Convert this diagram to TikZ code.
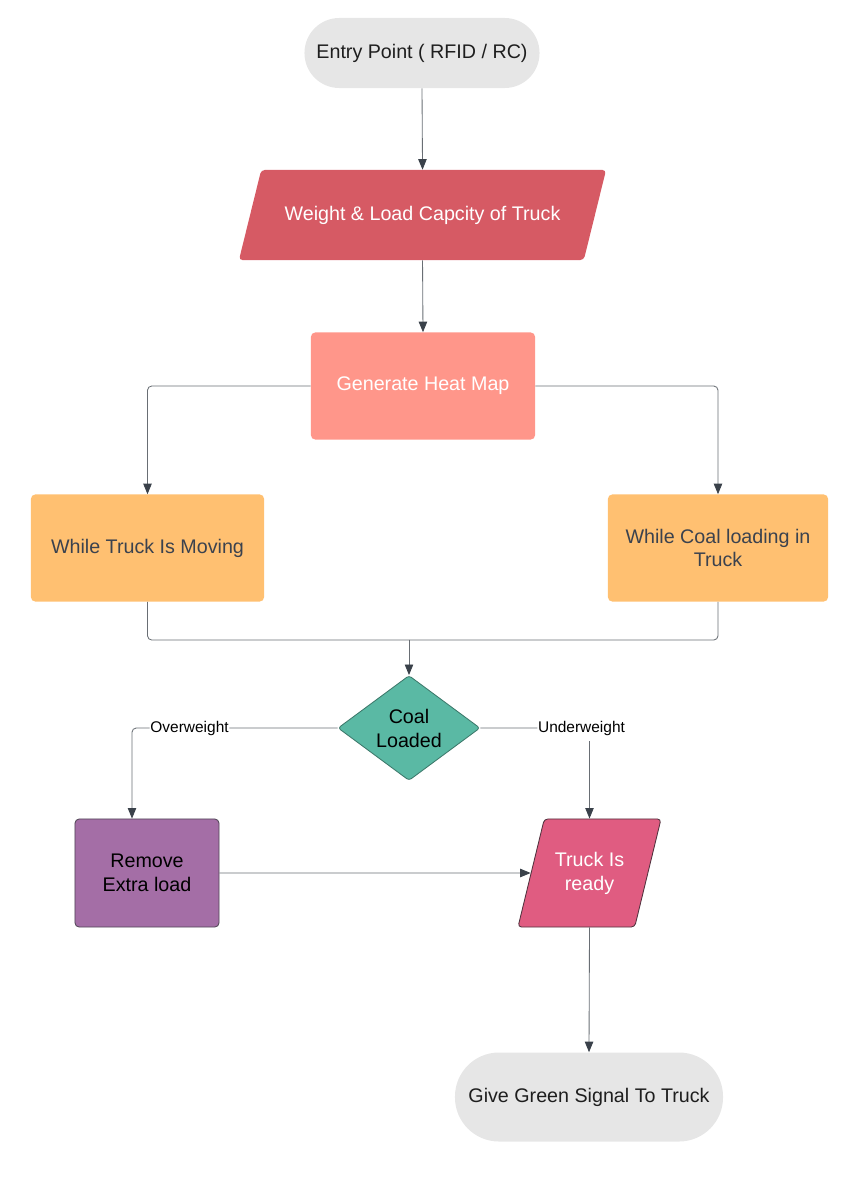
\documentclass[tikz,border=0pt]{standalone}
\usepackage{fontspec}
\setmainfont{Liberation Sans}
\usetikzlibrary{positioning,arrows.meta,shapes.geometric}
\definecolor{termgray}{RGB}{230,230,230}
\definecolor{weightred}{RGB}{214,90,100}
\definecolor{heatsalmon}{RGB}{255,150,138}
\definecolor{loadorange}{RGB}{255,192,113}
\definecolor{coalteal}{RGB}{90,185,164}
\definecolor{coaledge}{RGB}{60,120,106}
\definecolor{removepurple}{RGB}{164,110,166}
\definecolor{removeedge}{RGB}{80,70,85}
\definecolor{readypink}{RGB}{224,92,129}
\definecolor{readyedge}{RGB}{80,50,62}
\definecolor{linegray}{RGB}{105,110,116}
\definecolor{tipslate}{RGB}{58,65,74}
\definecolor{orangetext}{RGB}{59,66,78}
\definecolor{textdark}{RGB}{30,30,30}

\begin{document}
\begin{tikzpicture}[x=0.025cm,y=-0.025cm,
          base/.style={font=\fontsize{14}{17}\selectfont,align=center,inner sep=0pt},
          term/.style={base,fill=termgray,text=textdark},
          io/.style={base,trapezium,trapezium left angle=#1,
            trapezium right angle=180-#1,trapezium stretches body,
            rounded corners=2.5pt},
          box/.style={base,rectangle,rounded corners=3pt},
          decide/.style={base,diamond,fill=coalteal,draw=coaledge,
            line width=0.6pt,rounded corners=2pt,text=black},
          link/.style={draw=linegray,line width=0.6pt,rounded corners=3pt},
          flow/.style={link,-{Triangle[length=7.5pt,width=6pt,color=tipslate]}},
          lbl/.style={font=\fontsize{11}{13}\selectfont,fill=white,
            inner xsep=0.5pt,inner ysep=4pt,text=black}]

        \useasboundingbox (0,0) rectangle (845,1179);

        \node[term,minimum width=5.875cm,minimum height=1.75cm,
          rounded corners=0.87cm] (entry) at (422,53)
          {Entry Point ( RFID / RC)};
        \node[io=75.7,fill=weightred,text=white,inner ysep=24.5pt,
          minimum width=9.175cm,minimum height=2.25cm] (weight) at (422.5,215)
          {Weight \& Load Capcity of Truck};
        \node[box,fill=heatsalmon,text=white,minimum width=5.6cm,
          minimum height=2.675cm] (heat) at (423,386)
          {Generate Heat Map};
        \node[box,fill=loadorange,text=orangetext,minimum width=5.825cm,
          minimum height=2.675cm] (moving) at (147.5,548)
          {While Truck Is Moving};
        \node[box,fill=loadorange,text=orangetext,minimum width=5.5cm,
          minimum height=2.675cm] (loading) at (718,548)
          {While Coal loading in\\Truck};
        \coordinate (merge) at (409,640);
        \node[decide,minimum width=3.55cm,minimum height=2.625cm]
          (coal) at (409,728) {Coal\\Loaded};
        \node[box,fill=removepurple,draw=removeedge,line width=0.6pt,
          text=black,minimum width=3.6cm,minimum height=2.7cm]
          (remove) at (147,873) {Remove\\Extra load};
        \node[io=76,fill=readypink,draw=readyedge,line width=0.6pt,
          text=white,inner ysep=22.5pt,minimum width=3.575cm,
          minimum height=2.7cm] (truck) at (589.5,873) {Truck Is\\ready};
        \node[term,minimum width=6.7cm,minimum height=2.225cm,
          rounded corners=1.1cm] (give) at (589,1097)
          {Give Green Signal To Truck};

        \draw[flow] (entry.south) -- (weight.north);
        \draw[flow] (weight.south) -- (heat.north);
        \draw[flow] (heat.west) -| (moving.north);
        \draw[flow] (heat.east) -| (loading.north);
        \draw[link] (moving.south) |- (merge);
        \draw[link] (loading.south) |- (merge);
        \draw[flow] (merge) -- (coal.north);
        \draw[flow] (coal.west) -| node[lbl,pos=0.36] (over) {Overweight}
          ([xshift=-0.375cm]remove.north);
        \draw[flow] (coal.east) -| node[lbl,pos=0.5,xshift=-0.2cm] (under)
          {Underweight} (truck.north);
        \draw[flow] (remove.east) -- (truck.west);
        \draw[flow] (truck.south) -- (give.north);

      \end{tikzpicture}
\end{document}
